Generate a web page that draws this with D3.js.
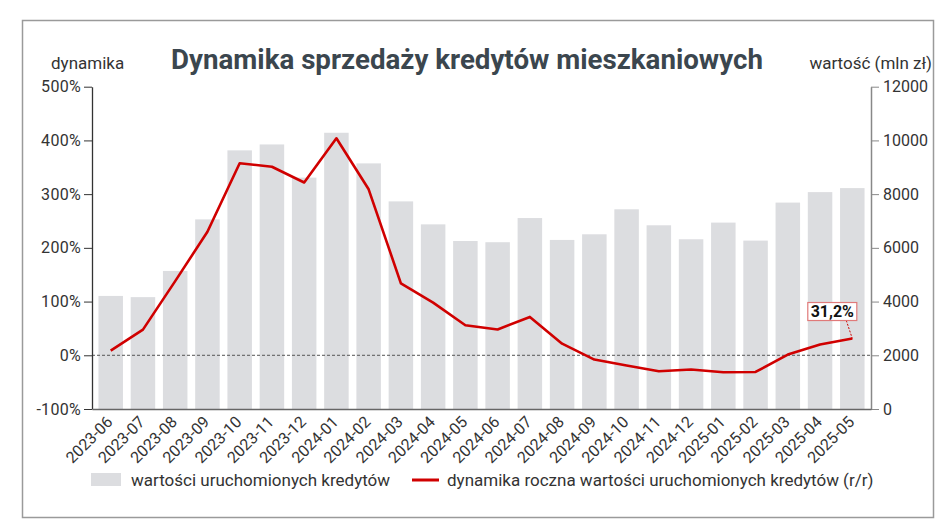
<!DOCTYPE html>
<html>
<head>
<meta charset="utf-8">
<script src="https://cdn.jsdelivr.net/npm/d3@7"></script>
<style>
  html, body { margin: 0; padding: 0; background: #fff; }
  svg text { font-family: "Roboto", "DejaVu Sans", sans-serif; }
</style>
</head>
<body>
<div id="viz"></div>
<script>
const months = ["2023-06","2023-07","2023-08","2023-09","2023-10","2023-11","2023-12",
  "2024-01","2024-02","2024-03","2024-04","2024-05","2024-06","2024-07","2024-08","2024-09",
  "2024-10","2024-11","2024-12","2025-01","2025-02","2025-03","2025-04","2025-05"];
// wartości uruchomionych kredytów (mln zł)
const loanValues = [4210, 4165, 5140, 7060, 9630, 9850, 8615, 10285, 9145, 7730, 6875, 6255,
  6210, 7110, 6295, 6505, 7435, 6840, 6320, 6940, 6270, 7685, 8075, 8225];
// dynamika roczna (%)
const yoyDynamics = [8.7, 47.8, 138, 230, 357.6, 351, 321.6, 404, 309, 134, 98, 56,
  48, 71.4, 21.7, -8, -19, -29.7, -26.6, -31.6, -31, 1.3, 20, 31.2];
const leftTicks = [-100, 0, 100, 200, 300, 400, 500];
const rightTicks = [0, 2000, 4000, 6000, 8000, 10000, 12000];

const W = 950, H = 532;
const plot = { left: 92, right: 871, top: 86.7, bottom: 409 };

const svg = d3.select("#viz").append("svg")
  .attr("width", W).attr("height", H);

// frame
svg.append("rect")
  .attr("x", 22.5).attr("y", 20.5)
  .attr("width", 911).attr("height", 497)
  .attr("fill", "none").attr("stroke", "#9a9a9a").attr("stroke-width", 1.5);

const x = d3.scaleBand().domain(months)
  .range([plot.left, plot.right]).paddingInner(0.24).paddingOuter(0.2);
const yL = d3.scaleLinear().domain([-100, 500]).range([plot.bottom, plot.top]);
const yR = d3.scaleLinear().domain([0, 12000]).range([plot.bottom, plot.top]);

// bars
svg.append("g").selectAll("rect")
  .data(months)
  .join("rect")
    .attr("x", d => x(d))
    .attr("y", (d, i) => yR(loanValues[i]))
    .attr("width", x.bandwidth())
    .attr("height", (d, i) => yR(0) - yR(loanValues[i]))
    .attr("fill", "#dcdde0");

// zero line
svg.append("line")
  .attr("x1", plot.left).attr("x2", plot.right)
  .attr("y1", yL(0)).attr("y2", yL(0))
  .attr("stroke", "#555").attr("stroke-width", 1)
  .attr("stroke-dasharray", "3,2");

// left axis
const leftAxis = svg.append("g")
  .attr("transform", `translate(${plot.left},0)`)
  .call(d3.axisLeft(yL).tickValues(leftTicks).tickSize(8).tickSizeOuter(0)
    .tickFormat(d => d + "%"));
leftAxis.select(".domain").attr("stroke", "#333").attr("stroke-width", 1.3);
leftAxis.selectAll(".tick line").attr("stroke", "#333");
leftAxis.selectAll("text")
  .attr("x", -11).attr("fill", "#333")
  .style("font-size", "16px").style("letter-spacing", "0.3px");

// right axis
const rightAxis = svg.append("g")
  .attr("transform", `translate(${plot.right},0)`)
  .call(d3.axisRight(yR).tickValues(rightTicks).tickSize(8).tickSizeOuter(0)
    .tickFormat(d3.format("d")));
rightAxis.select(".domain").attr("stroke", "#888").attr("stroke-width", 1.5);
rightAxis.selectAll(".tick line").attr("stroke", "#888");
rightAxis.selectAll("text")
  .attr("x", 12).attr("fill", "#333")
  .style("font-size", "16px");

// bottom axis
const bottomAxis = svg.append("g")
  .attr("transform", `translate(0,${plot.bottom})`)
  .call(d3.axisBottom(x).tickSize(0).tickSizeOuter(0));
bottomAxis.select(".domain").attr("stroke", "#666").attr("stroke-width", 1.3);
bottomAxis.selectAll("text")
  .attr("fill", "#333")
  .style("font-size", "16px")
  .style("text-anchor", "end")
  .attr("x", 0).attr("y", 0).attr("dy", 0)
  .attr("transform", "translate(3,14) rotate(-45)");

// line
const line = d3.line()
  .x((d, i) => x(months[i]) + x.bandwidth() / 2)
  .y(d => yL(d));
svg.append("path")
  .datum(yoyDynamics)
  .attr("d", line)
  .attr("fill", "none")
  .attr("stroke", "#d00000")
  .attr("stroke-width", 2.6)
  .attr("stroke-linejoin", "round");

// annotation for the last point
const lastIdx = yoyDynamics.length - 1;
const px = x(months[lastIdx]) + x.bandwidth() / 2;
const py = yL(yoyDynamics[lastIdx]);
svg.append("line")
  .attr("x1", px - 6).attr("y1", py - 18)
  .attr("x2", px).attr("y2", py)
  .attr("stroke", "#d00000").attr("stroke-width", 1)
  .attr("stroke-dasharray", "2,1.5");
svg.append("rect")
  .attr("x", px - 44.5).attr("y", py - 36)
  .attr("width", 49).attr("height", 18)
  .attr("fill", "#fff").attr("stroke", "#e07a7a").attr("stroke-width", 1.2);
svg.append("text")
  .attr("x", px - 20).attr("y", py - 21.5)
  .attr("text-anchor", "middle")
  .attr("fill", "#111")
  .style("font-size", "16px").style("font-weight", "bold")
  .text(yoyDynamics[lastIdx].toFixed(1).replace(".", ",") + "%");

// title and axis captions
svg.append("text")
  .attr("x", 467).attr("y", 69)
  .attr("text-anchor", "middle")
  .attr("fill", "#3b464e")
  .style("font-size", "27.7px").style("font-weight", "bold")
  .text("Dynamika sprzedaży kredytów mieszkaniowych");
svg.append("text")
  .attr("x", 51).attr("y", 69)
  .attr("fill", "#333").style("font-size", "17px")
  .text("dynamika");
svg.append("text")
  .attr("x", 932).attr("y", 69)
  .attr("text-anchor", "end")
  .attr("fill", "#333").style("font-size", "17px")
  .text("wartość (mln zł)");

// legend
const legend = svg.append("g").attr("transform", "translate(0,480)");
legend.append("rect")
  .attr("x", 91).attr("y", -7).attr("width", 30).attr("height", 13)
  .attr("fill", "#dcdde0");
legend.append("text")
  .attr("x", 131).attr("y", 5.5)
  .attr("fill", "#333").style("font-size", "17px")
  .text("wartości uruchomionych kredytów");
legend.append("line")
  .attr("x1", 412).attr("x2", 439).attr("y1", 0).attr("y2", 0)
  .attr("stroke", "#d00000").attr("stroke-width", 3);
legend.append("text")
  .attr("x", 447).attr("y", 5.5)
  .attr("fill", "#333").style("font-size", "17px")
  .text("dynamika roczna wartości uruchomionych kredytów (r/r)");
</script>
</body>
</html>
